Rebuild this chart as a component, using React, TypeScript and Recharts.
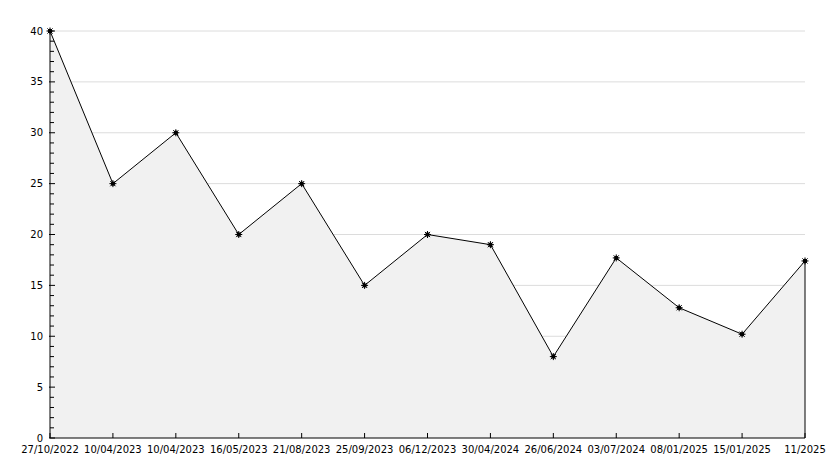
import { AreaChart, Area, XAxis, YAxis, CartesianGrid, ReferenceLine } from "recharts";

// dates on the x axis
const dates = [
    "27/10/2022", "10/04/2023", "10/04/2023", "16/05/2023", "21/08/2023", "25/09/2023",
    "06/12/2023", "30/04/2024", "26/06/2024", "03/07/2024", "08/01/2025", "15/01/2025", "11/2025",
];
// values
const values = [40, 25, 30, 20, 25, 15, 20, 19, 8, 17.7, 12.8, 10.2, 17.4];

const yTicks = Array.from({ length: 41 }, (_, i) => i);
const gridValues = [5, 10, 15, 20, 25, 30, 35, 40];

const data = dates.map((d, i) => ({ key: i, label: d, value: values[i] }));
const lastIdx = data.length - 1;

const font = "'DejaVu Sans', sans-serif";

const YTick = (props: any) => {
    const { x, y, payload } = props;
    const major = payload.value % 5 === 0;
    return (
        <g>
            <line x1={major ? x - 1 : x} x2={x + (major ? 5 : 4)} y1={y} y2={y} stroke="#000" />
            {major && (
                <text x={x - 7} y={y} dy="0.35em" textAnchor="end" fontSize={10} fontFamily={font} fill="#000">
                    {payload.value}
                </text>
            )}
        </g>
    );
};

const XTick = (props: any) => {
    const { x, y, payload } = props;
    return (
        <g>
            <line x1={x} x2={x} y1={y} y2={y - 5} stroke="#000" />
            <text x={x} y={y + 11} dy="0.35em" textAnchor="middle" fontSize={10} fontFamily={font} fill="#000">
                {dates[payload.value]}
            </text>
        </g>
    );
};

const Star = (props: any) => {
    const { cx, cy, index } = props;
    if (cx == null || cy == null) return null;
    return (
        <g key={`s${index}`}>
            <circle cx={cx} cy={cy} r={2.2} fill="#000" />
            <path
                d={`M${cx - 3.5},${cy}H${cx + 3.5}M${cx},${cy - 3.5}V${cy + 3.5}M${cx - 2.6},${cy - 2.6}L${cx + 2.6},${cy + 2.6}M${cx - 2.6},${cy + 2.6}L${cx + 2.6},${cy - 2.6}`}
                stroke="#000"
                strokeWidth={1}
            />
        </g>
    );
};

export default function App() {
    return (
        <div style={{ position: "absolute", left: 0, top: 0, background: "#fff" }}>
            <AreaChart width={834} height={468} data={data} margin={{ top: 31, right: 29, bottom: 0, left: 0 }}>
                <CartesianGrid
                    vertical={false}
                    stroke="#dcdcdc"
                    horizontalCoordinatesGenerator={({ offset }: any) =>
                        gridValues.map((v) => offset.top + offset.height * (1 - v / 40))
                    }
                />
                <XAxis
                    dataKey="key"
                    type="category"
                    height={30}
                    interval={0}
                    tickLine={false}
                    tickSize={0}
                    tickMargin={0}
                    axisLine={{ stroke: "#000" }}
                    tick={<XTick />}
                    padding={{ left: 0, right: 0 }}
                />
                <YAxis
                    width={50}
                    domain={[0, 40]}
                    ticks={yTicks}
                    interval={0}
                    tickLine={false}
                    tickSize={0}
                    tickMargin={0}
                    axisLine={{ stroke: "#000" }}
                    tick={<YTick />}
                />
                <Area
                    type="linear"
                    dataKey="value"
                    stroke="#000"
                    strokeWidth={1}
                    fill="#f1f1f1"
                    fillOpacity={1}
                    dot={Star}
                    activeDot={false}
                    isAnimationActive={false}
                />
                <ReferenceLine
                    segment={[{ x: lastIdx, y: 0 }, { x: lastIdx, y: values[lastIdx] }]}
                    stroke="#000"
                />
            </AreaChart>
        </div>
    );
}
